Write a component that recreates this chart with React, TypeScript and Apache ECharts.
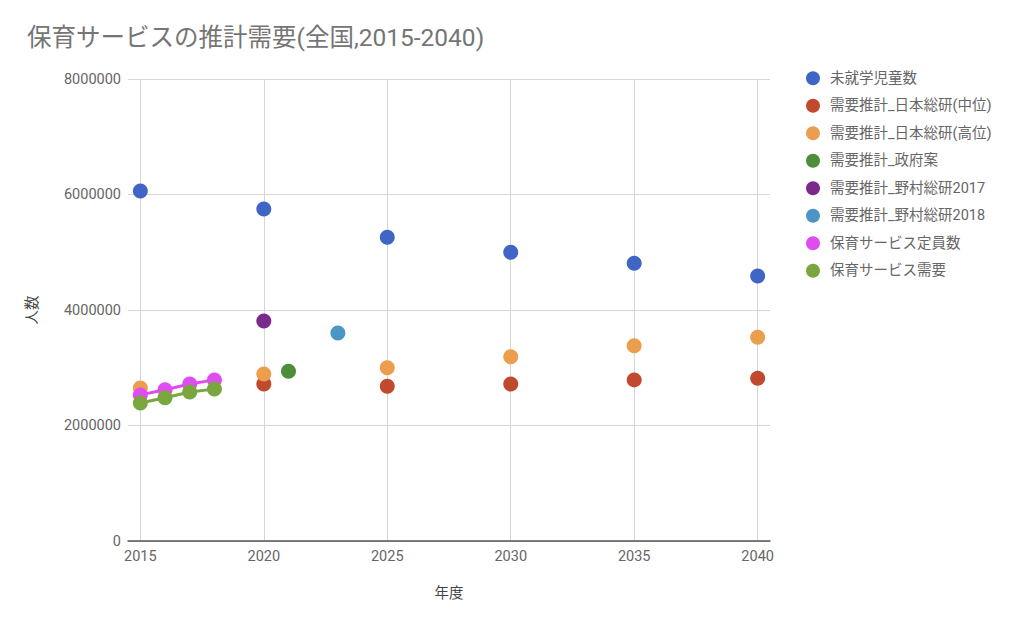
import React, { useEffect, useRef } from 'react'
import * as echarts from 'echarts'

const years = [2015, 2020, 2025, 2030, 2035, 2040]
const childrenCount = [6060000, 5750000, 5260000, 5000000, 4810000, 4590000]

const jriMidYears = [2020, 2025, 2030, 2035, 2040]
const jriMid = [2720000, 2680000, 2720000, 2790000, 2820000]

const jriHighYears = [2015, 2020, 2025, 2030, 2035, 2040]
const jriHigh = [2650000, 2890000, 3000000, 3190000, 3380000, 3530000]

const govYears = [2021]
const gov = [2940000]

const nomura2017Years = [2020]
const nomura2017 = [3810000]

const nomura2018Years = [2023]
const nomura2018 = [3600000]

const recentYears = [2015, 2016, 2017, 2018]
const capacity = [2530000, 2620000, 2720000, 2790000]
const demand = [2390000, 2480000, 2580000, 2630000]

const seriesNames = [
  '未就学児童数',
  '需要推計_日本総研(中位)',
  '需要推計_日本総研(高位)',
  '需要推計_政府案',
  '需要推計_野村総研2017',
  '需要推計_野村総研2018',
  '保育サービス定員数',
  '保育サービス需要',
]
const colors = ['#3f66c5', '#c1492e', '#eb9e4e', '#4d8e3a', '#7b2a8b', '#4b96c4', '#df4cf0', '#7aa63f']

const pairs = (xs: number[], ys: number[]) => xs.map((x, i) => [x, ys[i]])

const FONT = "Roboto, 'Noto Sans CJK JP', sans-serif"

// one grey line every 5 years, the rest transparent (ticks every 0.5 from 2014.5)
const splitColors = ['rgba(0,0,0,0)', '#d6d6d6', 'rgba(0,0,0,0)', 'rgba(0,0,0,0)', 'rgba(0,0,0,0)',
  'rgba(0,0,0,0)', 'rgba(0,0,0,0)', 'rgba(0,0,0,0)', 'rgba(0,0,0,0)', 'rgba(0,0,0,0)']

const App = function () {
  const chartDom = useRef<HTMLDivElement>(null)

  useEffect(() => {
    const chart = echarts.init(chartDom.current!, null, { renderer: 'svg' })
    const data = [
      pairs(years, childrenCount),
      pairs(jriMidYears, jriMid),
      pairs(jriHighYears, jriHigh),
      pairs(govYears, gov),
      pairs(nomura2017Years, nomura2017),
      pairs(nomura2018Years, nomura2018),
      pairs(recentYears, capacity),
      pairs(recentYears, demand),
    ]
    chart.setOption({
      animation: false,
      color: colors,
      textStyle: { fontFamily: FONT },
      title: {
        text: '保育サービスの推計需要(全国,2015-2040)',
        left: 22,
        top: 20,
        textStyle: { fontSize: 24.5, fontWeight: 'normal', color: '#757575', fontFamily: FONT },
      },
      legend: {
        orient: 'vertical',
        left: 801,
        top: 66,
        icon: 'circle',
        itemWidth: 14,
        itemHeight: 14,
        itemGap: 13,
        data: seriesNames,
        textStyle: { fontSize: 14.5, color: '#666', fontFamily: FONT, padding: [0, 0, 0, 5] },
      },
      grid: { left: 128, right: 254, top: 79, bottom: 85 },
      xAxis: {
        type: 'value',
        min: 2014.5,
        max: 2040.5,
        interval: 0.5,
        name: '年度',
        nameLocation: 'middle',
        nameGap: 45,
        nameTextStyle: { fontSize: 14.5, color: '#444', fontFamily: FONT },
        axisLine: { lineStyle: { color: '#555', width: 1.5 } },
        axisTick: { show: false },
        axisLabel: {
          fontSize: 14.5,
          color: '#666',
          margin: 8,
          formatter: (v: number) => (Number.isInteger(v) && v % 5 === 0 ? String(v) : ''),
        },
        splitLine: { show: true, lineStyle: { color: splitColors, width: 1 } },
      },
      yAxis: {
        type: 'value',
        min: 0,
        max: 8000000,
        interval: 2000000,
        name: '人数',
        nameLocation: 'middle',
        nameGap: 88,
        nameTextStyle: { fontSize: 14.5, color: '#444', fontFamily: FONT },
        axisLine: { show: false },
        axisTick: { show: false },
        axisLabel: { fontSize: 14.5, color: '#666', margin: 7, formatter: (v: number) => String(v) },
        splitLine: { lineStyle: { color: '#d6d6d6' } },
      },
      series: seriesNames.map((name, i) => {
        const isLine = i >= 6
        return {
          name,
          type: isLine ? 'line' : 'scatter',
          data: data[i],
          symbol: 'circle',
          symbolSize: 15,
          showSymbol: true,
          itemStyle: { color: colors[i], opacity: 1 },
          lineStyle: isLine ? { width: 3, color: colors[i] } : undefined,
          z: i === 0 ? 2 : 3,
        }
      }),
    })
    return () => {
      chart.dispose()
    }
  }, [])

  return (
    <div
      ref={chartDom}
      style={{ position: 'fixed', left: 0, top: 0, width: '1024px', height: '626px', background: '#fff' }}
    />
  )
}

export default App
